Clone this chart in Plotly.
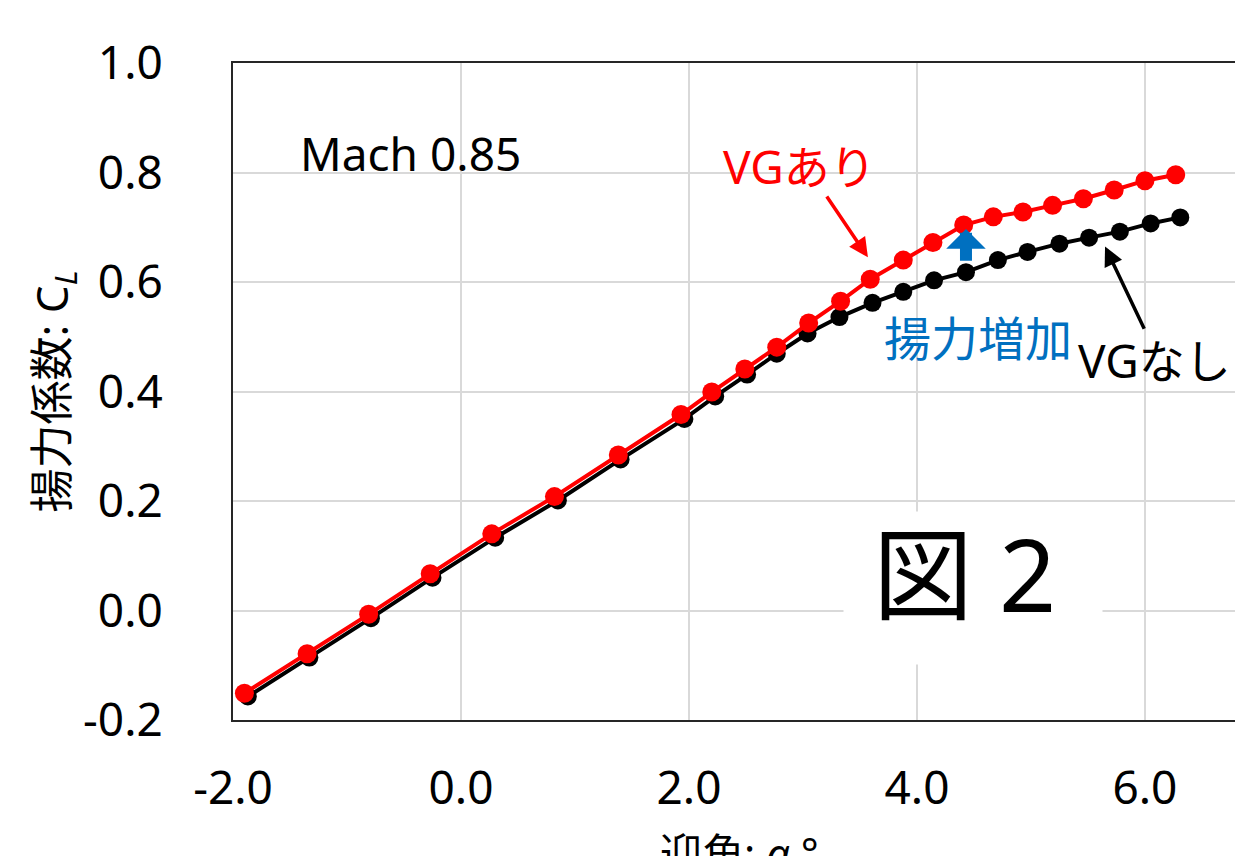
import plotly.graph_objects as go

# Angle of attack (deg) and lift coefficient
alpha_vg = [-1.90, -1.35, -0.81, -0.27, 0.27, 0.82, 1.38, 1.93, 2.20, 2.49, 2.77, 3.05,
            3.33, 3.59, 3.88, 4.14, 4.41, 4.67, 4.93, 5.19, 5.46, 5.73, 6.00, 6.27]
cl_vg = [-0.151, -0.079, -0.007, 0.067, 0.140, 0.208, 0.284, 0.358, 0.399, 0.441, 0.481, 0.525,
         0.565, 0.605, 0.640, 0.672, 0.704, 0.719, 0.728, 0.740, 0.752, 0.768, 0.785, 0.796]

alpha_novg = [-1.87, -1.33, -0.79, -0.25, 0.30, 0.85, 1.40, 1.96, 2.23, 2.51, 2.77, 3.04,
              3.32, 3.61, 3.88, 4.15, 4.43, 4.71, 4.97, 5.25, 5.51, 5.78, 6.05, 6.31]
cl_novg = [-0.157, -0.086, -0.014, 0.060, 0.133, 0.201, 0.276, 0.350, 0.391, 0.431, 0.469, 0.506,
           0.536, 0.562, 0.582, 0.603, 0.618, 0.640, 0.655, 0.670, 0.681, 0.692, 0.707, 0.718]

x_tickvals = [-2.0, 0.0, 2.0, 4.0, 6.0]
x_ticktext = ["-2.0", "0.0", "2.0", "4.0", "6.0"]
y_tickvals = [-0.2, 0.0, 0.2, 0.4, 0.6, 0.8, 1.0]
y_ticktext = ["-0.2", "0.0", "0.2", "0.4", "0.6", "0.8", "1.0"]
x_title = "迎角: <i>α</i> °"
y_title = "揚力係数: C<sub><i>L</i></sub>"

FONT = "Noto Sans, Noto Sans CJK JP, sans-serif"
RED = "#FF0000"
BLUE = "#0070C0"

fig = go.Figure()
fig.add_trace(go.Scatter(x=alpha_novg, y=cl_novg, mode="lines+markers", name="VGなし",
                         line=dict(color="#000000", width=4),
                         marker=dict(color="#000000", size=18)))
fig.add_trace(go.Scatter(x=alpha_vg, y=cl_vg, mode="lines+markers", name="VGあり",
                         line=dict(color=RED, width=4),
                         marker=dict(color=RED, size=19)))

ann = [
    dict(x=-0.44, y=0.835, text="Mach 0.85", showarrow=False,
         font=dict(size=46, color="#000000")),
    dict(x=2.97, y=0.812, text="VGあり", showarrow=False,
         font=dict(size=46, color=RED)),
    dict(x=3.57, y=0.645, ax=3.20, ay=0.759, axref="x", ayref="y", text="",
         showarrow=True, arrowhead=2, arrowsize=1.1, arrowwidth=3.5, arrowcolor=RED),
    dict(x=4.535, y=0.497, text="揚力増加", showarrow=False,
         font=dict(size=47, color=BLUE)),
    dict(x=6.08, y=0.457, text="VGなし", showarrow=False,
         font=dict(size=46, color="#000000")),
    dict(x=5.65, y=0.665, ax=6.00, ay=0.512, axref="x", ayref="y", text="",
         showarrow=True, arrowhead=2, arrowsize=1.1, arrowwidth=3.5, arrowcolor="#000000"),
    dict(x=4.43, y=0.697, ax=4.43, ay=0.636, axref="x", ayref="y", text="",
         showarrow=True, arrowhead=1, arrowsize=0.55, arrowwidth=12, arrowcolor=BLUE),
    # white label box behind the figure label
    dict(x=4.49, y=0.042, text=" ", showarrow=False, width=256, height=150,
         bgcolor="#FFFFFF", font=dict(size=20)),
    dict(x=4.42, y=0.068, text="図 2", showarrow=False,
         font=dict(size=100, color="#000000")),
    # x-axis title, placed low like the cropped original
    dict(x=0.505, y=-0.155, xref="paper", yref="paper", xanchor="center", yanchor="top",
         text=x_title, showarrow=False, font=dict(size=42, color="#000000")),
]

fig.update_layout(
    width=1227, height=848,
    margin=dict(l=225, r=0, t=55, b=136),
    paper_bgcolor="#FFFFFF", plot_bgcolor="#FFFFFF",
    font=dict(family=FONT, color="#000000"),
    showlegend=False,
    dragmode=False,
    annotations=ann,
)
fig.update_xaxes(
    range=[-2, 6.79], tickvals=x_tickvals, ticktext=x_ticktext, automargin=False,
    showgrid=True, gridcolor="#D9D9D9", gridwidth=1.5, zeroline=False,
    showline=True, linecolor="#262626", linewidth=2, mirror=True,
    ticks="outside", ticklen=27, tickcolor="rgba(0,0,0,0)",
    tickfont=dict(size=46),
)
fig.update_yaxes(
    range=[-0.2, 1.0], tickvals=y_tickvals, ticktext=y_ticktext, automargin=False,
    showgrid=True, gridcolor="#D9D9D9", gridwidth=1.5, zeroline=False,
    showline=True, linecolor="#262626", linewidth=2, mirror=False,
    ticks="outside", ticklen=59, tickcolor="rgba(0,0,0,0)",
    tickfont=dict(size=46),
    title=dict(text=y_title, font=dict(size=44), standoff=1),
)

fig.write_html("out.html")
